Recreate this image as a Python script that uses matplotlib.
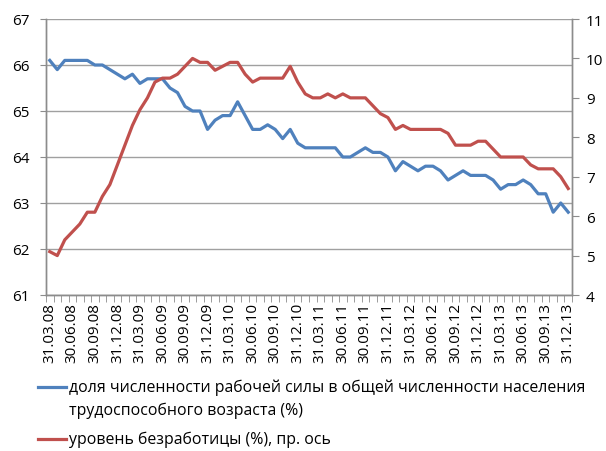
import matplotlib
matplotlib.use("Agg")
import matplotlib.pyplot as plt
from matplotlib.lines import Line2D
import numpy as np

plt.rcParams['font.family'] = ['Open Sans', 'DejaVu Sans']

participation = [66.1, 65.9, 66.1, 66.1, 66.1, 66.1, 66.0, 66.0, 65.9, 65.8,
                 65.7, 65.8, 65.6, 65.7, 65.7, 65.7, 65.5, 65.4, 65.1, 65.0,
                 65.0, 64.6, 64.8, 64.9, 64.9, 65.2, 64.9, 64.6, 64.6, 64.7,
                 64.6, 64.4, 64.6, 64.3, 64.2, 64.2, 64.2, 64.2, 64.2, 64.0,
                 64.0, 64.1, 64.2, 64.1, 64.1, 64.0, 63.7, 63.9, 63.8, 63.7,
                 63.8, 63.8, 63.7, 63.5, 63.6, 63.7, 63.6, 63.6, 63.6, 63.5,
                 63.3, 63.4, 63.4, 63.5, 63.4, 63.2, 63.2, 62.8, 63.0, 62.8]

unemployment = [5.1, 5.0, 5.4, 5.6, 5.8, 6.1, 6.1, 6.5, 6.8, 7.3,
                7.8, 8.3, 8.7, 9.0, 9.4, 9.5, 9.5, 9.6, 9.8, 10.0,
                9.9, 9.9, 9.7, 9.8, 9.9, 9.9, 9.6, 9.4, 9.5, 9.5,
                9.5, 9.5, 9.8, 9.4, 9.1, 9.0, 9.0, 9.1, 9.0, 9.1,
                9.0, 9.0, 9.0, 8.8, 8.6, 8.5, 8.2, 8.3, 8.2, 8.2,
                8.2, 8.2, 8.2, 8.1, 7.8, 7.8, 7.8, 7.9, 7.9, 7.7,
                7.5, 7.5, 7.5, 7.5, 7.3, 7.2, 7.2, 7.2, 7.0, 6.7]

tick_labels = ["31.03.08", "30.06.08", "30.09.08", "31.12.08",
               "31.03.09", "30.06.09", "30.09.09", "31.12.09",
               "31.03.10", "30.06.10", "30.09.10", "31.12.10",
               "31.03.11", "30.06.11", "30.09.11", "31.12.11",
               "31.03.12", "30.06.12", "30.09.12", "31.12.12",
               "31.03.13", "30.06.13", "30.09.13", "31.12.13"]

label_blue = "доля численности рабочей силы в общей численности населения\nтрудоспособного возраста (%)"
label_red = "уровень безработицы (%), пр. ось"

blue = '#4F81BD'
red = '#C0504D'
grid_c = '#A0A0A0'
axis_c = '#8C8C8C'

fig = plt.figure(figsize=(6.06, 4.52), dpi=100)
ax = fig.add_axes([46/606, 1-296/452, (572-46)/606, (296-20)/452])
ax2 = ax.twinx()

n = len(participation)
x = np.arange(n)
ax.plot(x, participation, color=blue, lw=2.3, solid_joinstyle='round', zorder=3)
ax2.plot(x, unemployment, color=red, lw=2.3, solid_joinstyle='round', zorder=3)

ax.set_xlim(-0.5, n - 0.5)
ax.set_ylim(61, 67)
ax.set_yticks(range(61, 68))
ax2.set_ylim(4, 11)
ax2.set_yticks(range(4, 12))

ax.set_xticks(np.arange(0, n, 3))
ax.set_xticklabels(tick_labels, rotation=90)
ax.set_xticks(np.arange(-0.5, n, 1), minor=True)
ax.tick_params(axis='x', which='major', length=0, pad=5, labelsize=11)
ax.tick_params(axis='x', which='minor', length=5, color=axis_c, direction='out')
ax.tick_params(axis='y', length=4, color=axis_c, pad=8, labelsize=11)
ax2.tick_params(axis='y', length=5, color=axis_c, pad=5, labelsize=11)

ax.yaxis.grid(True, color=grid_c, lw=1)
ax.set_axisbelow(True)
for a in (ax, ax2):
    a.spines['top'].set_visible(False)
    for s in ('left', 'right', 'bottom'):
        a.spines[s].set_color(axis_c)
        a.spines[s].set_linewidth(1)

# legend
fs = 11.4
fig.add_artist(Line2D([38/606, 66/606], [1-388/452, 1-388/452], color=blue, lw=2.3))
fig.text(69/606, 1-388/452, label_blue.split("\n")[0], fontsize=fs, va='center', ha='left')
fig.text(69/606, 1-411/452, label_blue.split("\n")[1], fontsize=fs, va='center', ha='left')
fig.add_artist(Line2D([38/606, 66/606], [1-440/452, 1-440/452], color=red, lw=2.3))
fig.text(69/606, 1-440/452, label_red, fontsize=fs, va='center', ha='left')

fig.savefig("out.png", dpi=100)
